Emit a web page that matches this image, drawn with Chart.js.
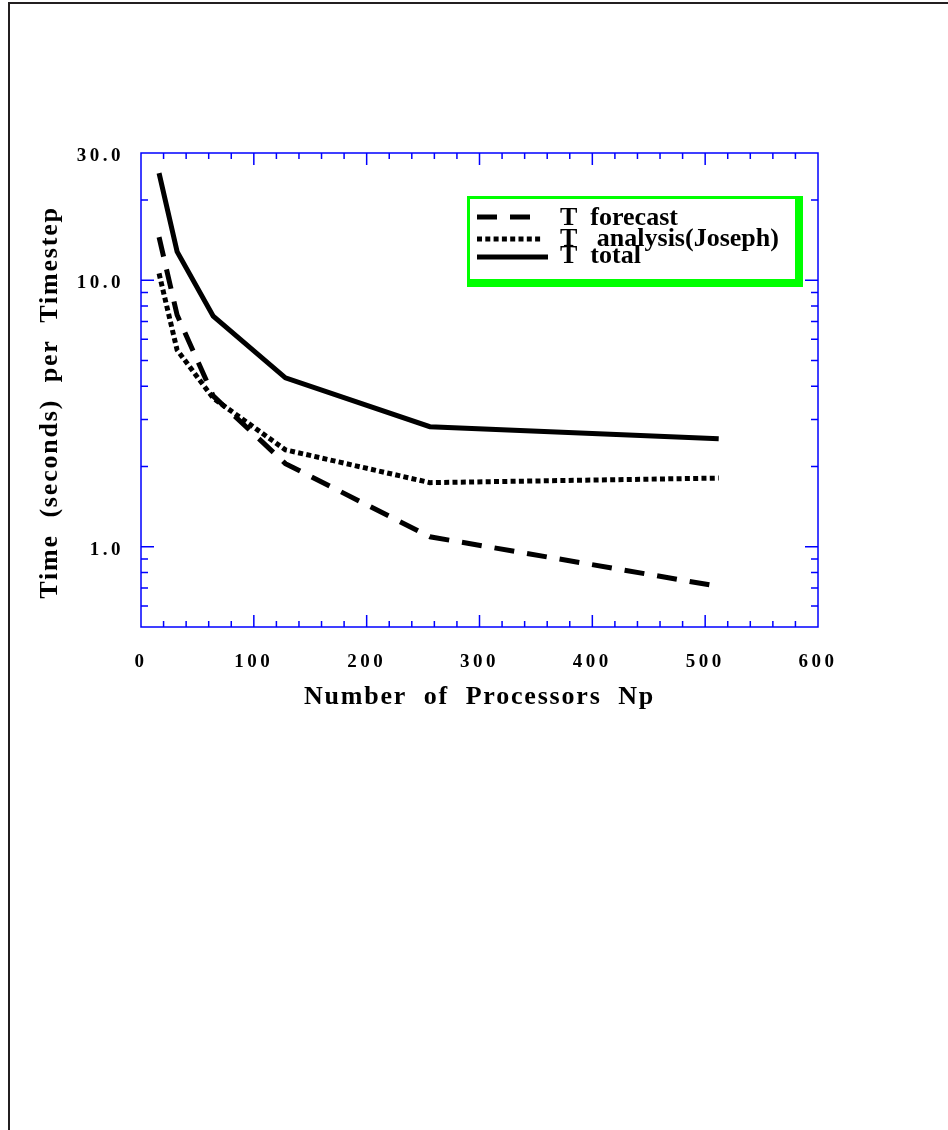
<!DOCTYPE html>
<html>
<head>
<meta charset="utf-8">
<title>Time per timestep vs number of processors</title>
<script src="https://cdn.jsdelivr.net/npm/chart.js@4.4.1/dist/chart.umd.min.js"></script>
<style>
  html, body { margin: 0; padding: 0; background: #fff; }
  #page { position: relative; width: 948px; height: 1130px; overflow: hidden; }
  #edge { position: absolute; left: 8px; top: 2px; width: 960px; height: 1140px;
          border-left: 2px solid #231f20; border-top: 2px solid #231f20; }
  #timingChart { position: absolute; left: 0; top: 0; }
</style>
</head>
<body>
<div id="page">
  <div id="edge"></div>
  <canvas id="timingChart" width="948" height="1130"></canvas>
</div>
<script>
// ---- data ----
const npValues   = [16, 32, 64, 128, 256, 512];
const tForecast  = [14.5, 7.4, 3.68, 2.05, 1.09, 0.71];
const tAnalysis  = [10.6, 5.47, 3.61, 2.31, 1.74, 1.81];
const tTotal     = [25.2, 12.8, 7.33, 4.3, 2.82, 2.54];

const seriesLabels = ['T  forecast', 'T   analysis(Joseph)', 'T  total'];

// ---- axis ticks ----
const xLabelValues = [0, 100, 200, 300, 400, 500, 600];
const xMajorTicks  = [100, 200, 300, 400, 500];
const xMinorTicks  = [20, 40, 60, 80, 120, 140, 160, 180, 220, 240, 260, 280,
                      320, 340, 360, 380, 420, 440, 460, 480, 520, 540, 560, 580];
const yLabelValues = [1, 10, 30];
const yMajorTicks  = [1, 10];
const yMinorTicks  = [0.6, 0.7, 0.8, 0.9, 2, 3, 4, 5, 6, 7, 8, 9, 20];

const SERIF = '"Liberation Serif", "Times New Roman", serif';
const BLUE = '#0000ff';
const GREEN = '#00ff00';

function toPoints(ys) {
  return npValues.map((x, i) => ({ x: x, y: ys[i] }));
}

// letter spacing: wide for tick labels, a bit for axis titles (drawn after datasets)
const spacingPlugin = {
  id: 'spacing',
  beforeDraw(chart) { chart.ctx.letterSpacing = '3.5px'; },
  beforeDatasetsDraw(chart) { chart.ctx.letterSpacing = '0px'; },
  afterDatasetsDraw(chart) { chart.ctx.letterSpacing = '1.8px'; },
  afterDraw(chart) { chart.ctx.letterSpacing = '0px'; }
};

// blue frame with inward ticks on all four sides
const framePlugin = {
  id: 'frameTicks',
  afterDatasetsDraw(chart) {
    const ctx = chart.ctx;
    const a = chart.chartArea;
    const xs = chart.scales.x;
    const ys = chart.scales.y;
    ctx.save();
    ctx.letterSpacing = '0px';
    ctx.strokeStyle = BLUE;
    ctx.lineWidth = 1.5;
    ctx.setLineDash([]);
    ctx.strokeRect(a.left, a.top, a.right - a.left, a.bottom - a.top);
    ctx.beginPath();
    const xTick = (v, len) => {
      const px = xs.getPixelForValue(v);
      ctx.moveTo(px, a.bottom); ctx.lineTo(px, a.bottom - len);
      ctx.moveTo(px, a.top); ctx.lineTo(px, a.top + len);
    };
    const yTick = (v, len) => {
      const py = ys.getPixelForValue(v);
      ctx.moveTo(a.left, py); ctx.lineTo(a.left + len, py);
      ctx.moveTo(a.right, py); ctx.lineTo(a.right - len, py);
    };
    xMajorTicks.forEach(v => xTick(v, 12));
    xMinorTicks.forEach(v => xTick(v, 6));
    yMajorTicks.forEach(v => yTick(v, 13));
    yMinorTicks.forEach(v => yTick(v, 7));
    ctx.stroke();
    ctx.restore();
  }
};

// boxed legend with green 3D border
const boxLegendPlugin = {
  id: 'boxLegend',
  afterDraw(chart) {
    const ctx = chart.ctx;
    const box = { left: 467, top: 196, right: 803, bottom: 287 };
    ctx.save();
    ctx.letterSpacing = '0px';
    ctx.fillStyle = GREEN;
    ctx.fillRect(box.left, box.top, box.right - box.left, box.bottom - box.top);
    ctx.fillStyle = '#ffffff';
    ctx.fillRect(box.left + 3, box.top + 3, box.right - box.left - 11, box.bottom - box.top - 11);

    const rowLine = [217, 239, 257];
    const rowText = [225, 246, 263];
    const lineEnd = [530, 542, 548];
    ctx.font = 'bold 26px ' + SERIF;
    ctx.textBaseline = 'alphabetic';
    ctx.textAlign = 'left';
    chart.data.datasets.forEach((ds, i) => {
      ctx.strokeStyle = '#000';
      ctx.lineWidth = 5;
      ctx.lineCap = 'butt';
      ctx.setLineDash(ds.borderDash || []);
      ctx.beginPath();
      ctx.moveTo(477, rowLine[i]);
      ctx.lineTo(lineEnd[i], rowLine[i]);
      ctx.stroke();
      ctx.setLineDash([]);
      ctx.fillStyle = '#000';
      ctx.fillText(ds.label, 560, rowText[i]);
    });
    ctx.restore();
  }
};

const canvas = document.getElementById('timingChart');
const chartCtx = canvas.getContext('2d');

const timingChart = new Chart(chartCtx, {
  type: 'line',
  data: {
    datasets: [
      {
        label: seriesLabels[0],
        data: toPoints(tForecast),
        borderColor: '#000',
        borderWidth: 5,
        borderDash: [20, 13],
        borderCapStyle: 'butt'
      },
      {
        label: seriesLabels[1],
        data: toPoints(tAnalysis),
        borderColor: '#000',
        borderWidth: 5,
        borderDash: [5, 3.3],
        borderCapStyle: 'butt'
      },
      {
        label: seriesLabels[2],
        data: toPoints(tTotal),
        borderColor: '#000',
        borderWidth: 5,
        borderCapStyle: 'butt'
      }
    ]
  },
  options: {
    responsive: false,
    animation: false,
    devicePixelRatio: 1,
    layout: { padding: { left: 0, top: 153, right: 130, bottom: 403 } },
    elements: {
      point: { radius: 0, hoverRadius: 0 },
      line: { tension: 0, fill: false, borderJoinStyle: 'miter' }
    },
    plugins: {
      legend: { display: false },
      tooltip: { enabled: false },
      title: { display: false }
    },
    scales: {
      x: {
        type: 'linear',
        min: 0,
        max: 600,
        grid: { display: false, drawTicks: false, z: 1 },
        border: { display: false },
        afterBuildTicks: s => { s.ticks = xLabelValues.map(v => ({ value: v })); },
        afterFit: s => { s.height = 100; },
        ticks: {
          color: '#000',
          padding: 24,
          maxRotation: 0,
          autoSkip: false,
          font: { family: SERIF, size: 19, weight: 'bold' },
          callback: v => String(v)
        },
        title: {
          display: true,
          text: 'Number  of  Processors  Np',
          color: '#000',
          padding: { top: 0, bottom: 14 },
          font: { family: SERIF, size: 26, weight: 'bold' }
        }
      },
      y: {
        type: 'logarithmic',
        min: 0.5,
        max: 30,
        grid: { display: false, drawTicks: false, z: 1 },
        border: { display: false },
        afterBuildTicks: s => { s.ticks = yLabelValues.map(v => ({ value: v })); },
        afterFit: s => { s.width = 141; },
        ticks: {
          color: '#000',
          padding: 17,
          labelOffset: 3,
          autoSkip: false,
          font: { family: SERIF, size: 19, weight: 'bold' },
          callback: v => Number(v).toFixed(1)
        },
        title: {
          display: true,
          text: 'Time  (seconds)  per  Timestep   ',
          color: '#000',
          padding: { top: 35, bottom: 0 },
          font: { family: SERIF, size: 26, weight: 'bold' }
        }
      }
    }
  },
  plugins: [spacingPlugin, framePlugin, boxLegendPlugin]
});
</script>
</body>
</html>
